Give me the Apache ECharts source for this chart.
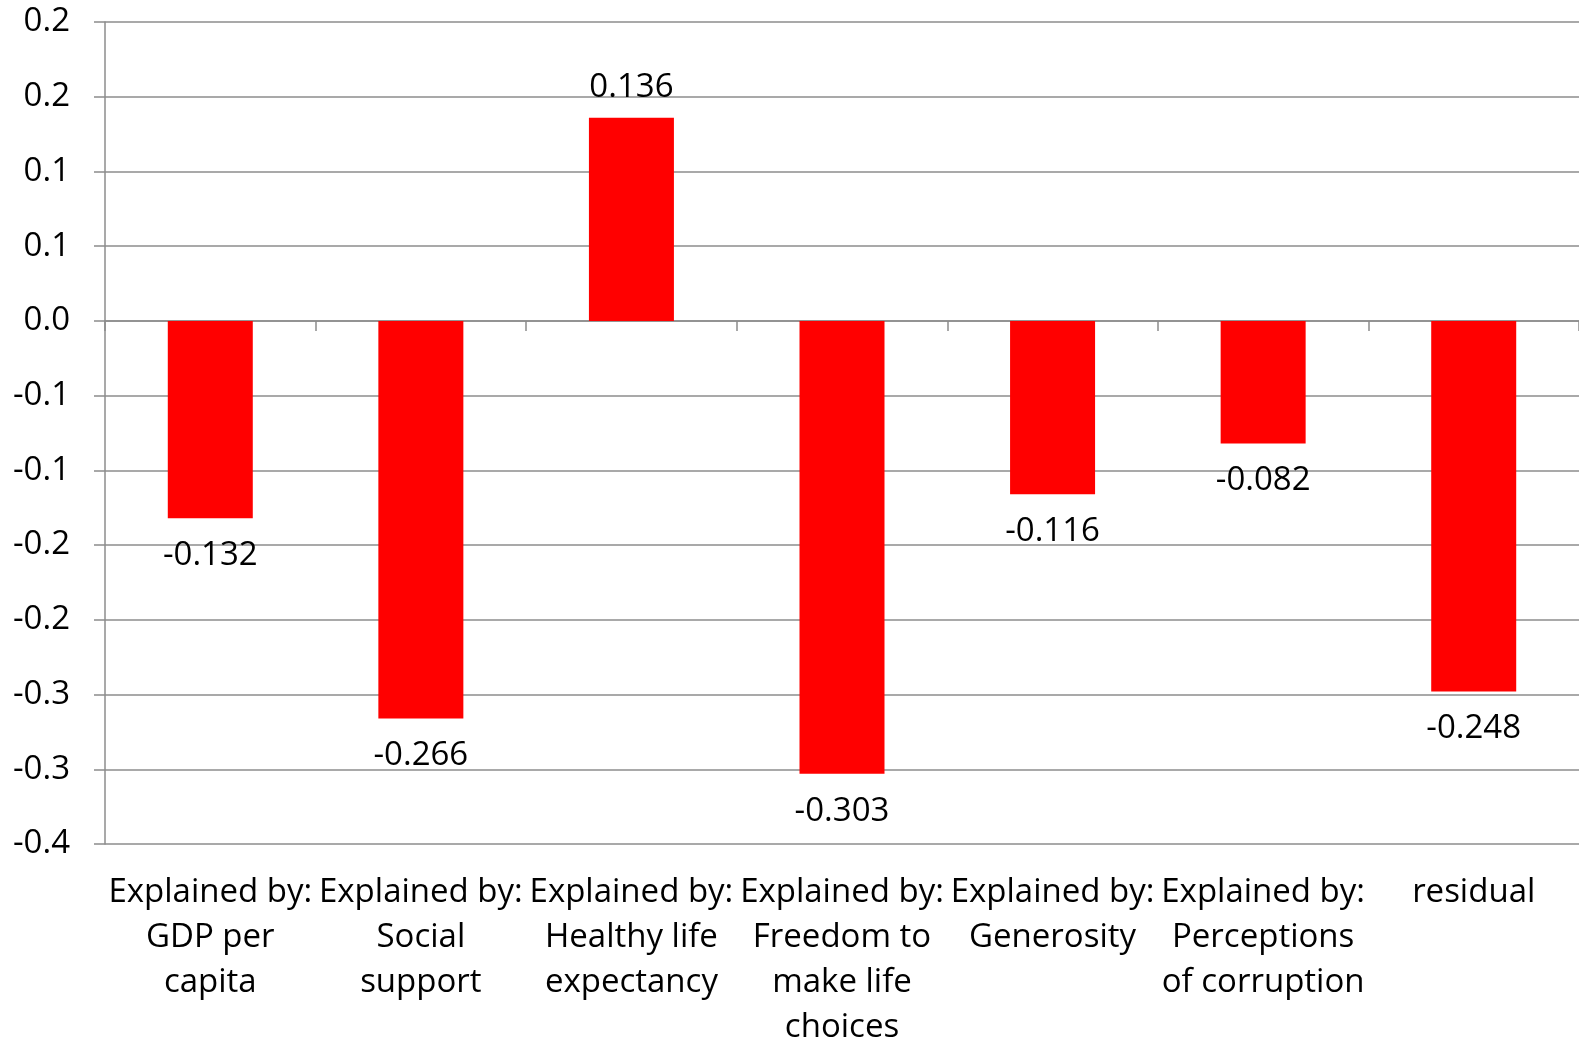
<!DOCTYPE html>
<html>
<head>
<meta charset="utf-8">
<script src="https://cdn.jsdelivr.net/npm/echarts@6/dist/echarts.min.js"></script>
<style>
html,body{margin:0;padding:0;background:#fff;overflow:hidden;}
#chart{width:1579px;height:1050px;}
</style>
</head>
<body>
<div id="chart"></div>
<script>
const categories = [
  'Explained by:\nGDP per\ncapita',
  'Explained by:\nSocial\nsupport',
  'Explained by:\nHealthy life\nexpectancy',
  'Explained by:\nFreedom to\nmake life\nchoices',
  'Explained by:\nGenerosity',
  'Explained by:\nPerceptions\nof corruption',
  'residual'
];
const values = [-0.132, -0.266, 0.136, -0.303, -0.116, -0.082, -0.248];
const yTickLabels = ['-0.4','-0.3','-0.3','-0.2','-0.2','-0.1','-0.1','0.0','0.1','0.1','0.2','0.2'];

const FONT = '"Open Sans", "Noto Sans", sans-serif';
const GRID = '#8c8c8c';
const FS = 33;

const chart = echarts.init(document.getElementById('chart'), null, {renderer: 'canvas'});
chart.setOption({
  animation: false,
  backgroundColor: '#ffffff',
  grid: {left: 105, right: 0, top: 22, bottom: 199, containLabel: false},
  xAxis: [
    {
      type: 'category',
      data: categories,
      position: 'bottom',
      axisLine: {show: false, onZero: false},
      axisTick: {show: false},
      axisLabel: {
        interval: 0,
        color: '#000',
        fontFamily: FONT,
        fontSize: FS,
        lineHeight: 45,
        margin: 26,
        align: 'center'
      }
    },
    {
      type: 'category',
      data: categories,
      position: 'bottom',
      axisLine: {show: true, onZero: true, lineStyle: {color: GRID, width: 1.5}},
      axisTick: {show: true, inside: false, length: 10, lineStyle: {color: GRID, width: 1.5}},
      axisLabel: {show: false}
    }
  ],
  yAxis: {
    type: 'value',
    min: -0.35,
    max: 0.2,
    interval: 0.05,
    axisLine: {show: true, lineStyle: {color: GRID, width: 1.5}},
    axisTick: {show: true, length: 11, lineStyle: {color: GRID, width: 1.5}},
    splitLine: {show: true, lineStyle: {color: GRID, width: 1.5}},
    axisLabel: {
      color: '#000',
      fontFamily: FONT,
      fontSize: FS,
      margin: 35,
      formatter: function (v, i) { return yTickLabels[i]; }
    }
  },
  series: [{
    type: 'bar',
    xAxisIndex: 0,
    data: values.map(v => ({
      value: v,
      label: v >= 0 ? {position: 'top', distance: 14} : {position: 'bottom', distance: 21}
    })),
    barWidth: 85,
    itemStyle: {color: '#ff0000'},
    label: {
      show: true,
      color: '#000',
      fontFamily: FONT,
      fontSize: FS,
      formatter: function (p) { return p.value.toFixed(3); }
    }
  }]
});
</script>
</body>
</html>
